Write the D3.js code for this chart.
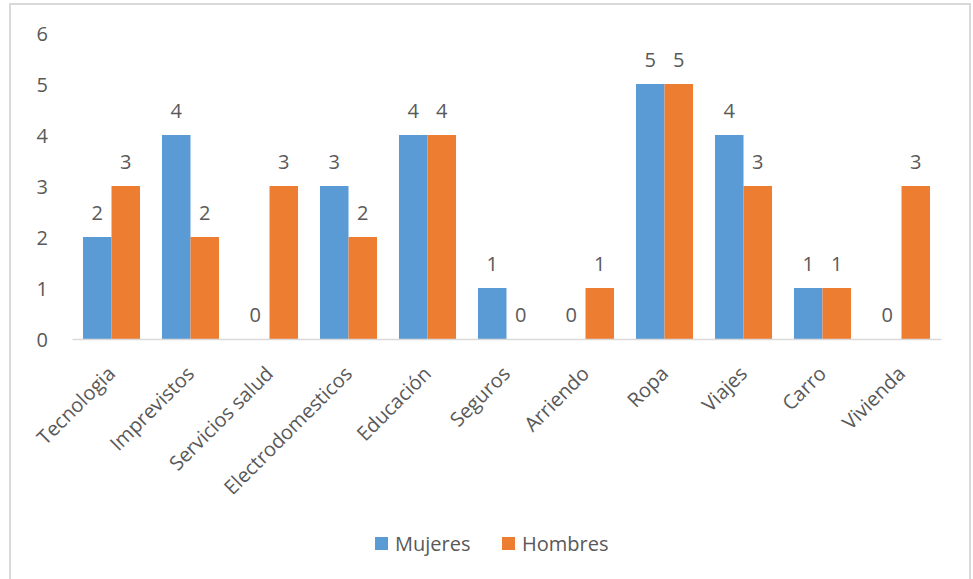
<!DOCTYPE html>
<html>
<head>
<meta charset="utf-8">
<script src="https://cdn.jsdelivr.net/npm/d3@7"></script>
<style>
  html, body { margin: 0; padding: 0; background: #fff; }
  svg { display: block; }
  text { font-family: "Open Sans", sans-serif; fill: #595959; }
</style>
</head>
<body>
<svg id="chart" width="973" height="579"></svg>
<script>
const categories = ["Tecnologia", "Imprevistos", "Servicios salud", "Electrodomesticos", "Educación",
  "Seguros", "Arriendo", "Ropa", "Viajes", "Carro", "Vivienda"];
const mujeres = [2, 4, 0, 3, 4, 1, 0, 5, 4, 1, 0];
const hombres = [3, 2, 3, 2, 4, 0, 1, 5, 3, 1, 3];
const seriesNames = ["Mujeres", "Hombres"];
const yTicks = [0, 1, 2, 3, 4, 5, 6];

const colors = { Mujeres: "#5B9BD5", Hombres: "#ED7D31" };
const series = [
  { name: seriesNames[0], values: mujeres },
  { name: seriesNames[1], values: hombres }
];

const svg = d3.select("#chart");

// chart area frame
svg.append("rect")
  .attr("x", 10).attr("y", 4)
  .attr("width", 960).attr("height", 600)
  .attr("fill", "#fff")
  .attr("stroke", "#D9D9D9").attr("stroke-width", 2);

const plot = { left: 72, right: 941, top: 33, bottom: 339 };

const x = d3.scaleBand()
  .domain(categories)
  .range([plot.left, plot.right])
  .paddingInner(0.278)
  .paddingOuter(0.139);

const xs = d3.scaleBand()
  .domain(seriesNames)
  .range([0, x.bandwidth()]);

const y = d3.scaleLinear()
  .domain([0, 6])
  .range([plot.bottom, plot.top]);

// y axis labels (no line, no gridlines)
const yAxis = d3.axisLeft(y).tickValues(yTicks).tickSize(0).tickPadding(0).tickFormat(d3.format("d"));
const yG = svg.append("g").attr("transform", `translate(48,0)`).call(yAxis);
yG.select(".domain").remove();
yG.selectAll("text")
  .style("font-size", "20px")
  .style("font-family", "'Open Sans', sans-serif")
  .attr("fill", "#595959")
  .attr("dy", "0.35em");

// bars
const groups = svg.append("g").selectAll("g")
  .data(series)
  .join("g")
  .attr("fill", d => colors[d.name]);

groups.selectAll("rect")
  .data(d => d.values.map((v, i) => ({ name: d.name, cat: categories[i], v })))
  .join("rect")
  .attr("x", d => x(d.cat) + xs(d.name))
  .attr("width", xs.bandwidth())
  .attr("y", d => y(d.v))
  .attr("height", d => y(0) - y(d.v));

// value labels
groups.selectAll("text")
  .data(d => d.values.map((v, i) => ({ name: d.name, cat: categories[i], v })))
  .join("text")
  .attr("x", d => x(d.cat) + xs(d.name) + xs.bandwidth() / 2)
  .attr("y", d => y(d.v) - 17)
  .attr("text-anchor", "middle")
  .style("font-size", "20px")
  .attr("fill", "#404040")
  .text(d => d.v);

// x axis line and rotated category labels
const xAxis = d3.axisBottom(x).tickSize(0).tickPadding(0);
const xG = svg.append("g").attr("transform", `translate(0,${plot.bottom})`).call(xAxis);
xG.select(".domain").attr("stroke", "#D9D9D9").attr("stroke-width", 1.5);
xG.selectAll(".tick text")
  .style("font-size", "20px")
  .style("font-family", "'Open Sans', sans-serif")
  .attr("fill", "#595959")
  .attr("text-anchor", "end")
  .attr("dy", null)
  .attr("y", 0)
  .attr("transform", "translate(5,36) rotate(-45)");

// legend
const legend = svg.append("g").attr("transform", "translate(375,537)");
const items = legend.selectAll("g")
  .data(seriesNames)
  .join("g")
  .attr("transform", (d, i) => `translate(${i * 127},0)`);
items.append("rect")
  .attr("width", 13).attr("height", 13)
  .attr("fill", d => colors[d]);
items.append("text")
  .attr("x", 20).attr("y", 6.5)
  .attr("dy", "0.36em")
  .style("font-size", "20px")
  .attr("fill", "#595959")
  .text(d => d);
</script>
</body>
</html>
